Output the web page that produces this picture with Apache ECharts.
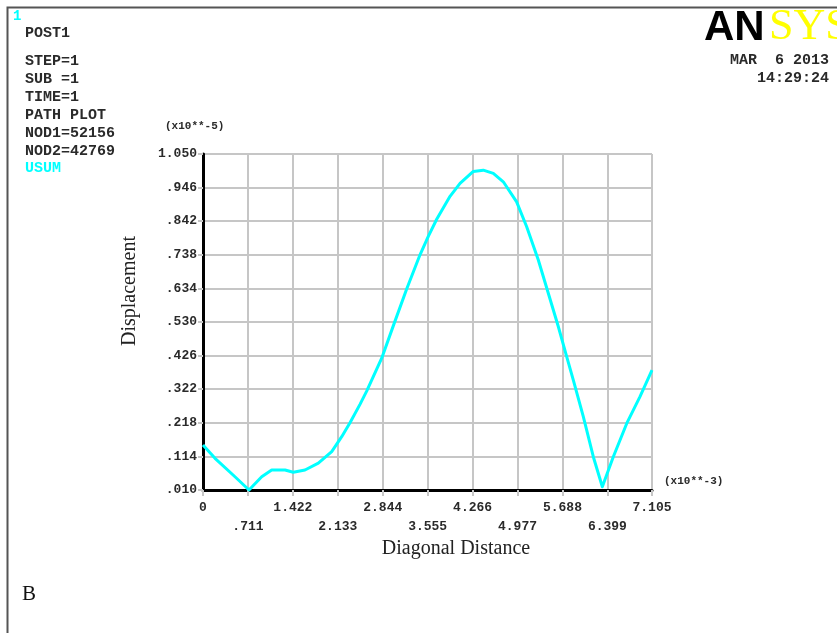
<!DOCTYPE html>
<html>
<head>
<meta charset="utf-8">
<script src="https://cdn.jsdelivr.net/npm/echarts@6/dist/echarts.min.js"></script>
<style>
  html, body { margin: 0; padding: 0; background: #ffffff; }
  #chart { width: 837px; height: 633px; }
</style>
</head>
<body>
<div id="chart"></div>
<script>
// Path plot of USUM along the diagonal (distance x10**-3, displacement x10**-5)
const distance = [0, 0.19, 0.506, 0.728, 0.929, 1.087, 1.298, 1.429, 1.614, 1.825, 2.037, 2.195,
  2.326, 2.484, 2.59, 2.828, 3.011, 3.223, 3.434, 3.565, 3.698, 3.909, 4.067, 4.277, 4.435,
  4.594, 4.752, 4.963, 5.122, 5.306, 5.464, 5.622, 5.755, 5.860, 6.018, 6.176, 6.319, 6.493,
  6.705, 6.915, 7.105];
const usum = [0.149, 0.108, 0.051, 0.010, 0.051, 0.072, 0.072, 0.065, 0.072, 0.093, 0.129, 0.175,
  0.218, 0.275, 0.316, 0.418, 0.518, 0.632, 0.738, 0.795, 0.848, 0.919, 0.959, 0.996, 1.000,
  0.990, 0.964, 0.902, 0.825, 0.722, 0.619, 0.516, 0.423, 0.350, 0.237, 0.113, 0.020, 0.113,
  0.216, 0.299, 0.381];

const xTicks = [0, 0.711, 1.422, 2.133, 2.844, 3.555, 4.266, 4.977, 5.688, 6.399, 7.105];
const xTickLabels = ['0', '.711', '1.422', '2.133', '2.844', '3.555', '4.266', '4.977', '5.688', '6.399', '7.105'];
const yTicks = [0.010, 0.114, 0.218, 0.322, 0.426, 0.530, 0.634, 0.738, 0.842, 0.946, 1.050];
const yTickLabels = ['.010', '.114', '.218', '.322', '.426', '.530', '.634', '.738', '.842', '.946', '1.050'];

const infoLines = ['STEP=1', 'SUB =1', 'TIME=1', 'PATH PLOT', 'NOD1=52156', 'NOD2=42769'];

const mono = '"Liberation Mono", "Courier New", monospace';
const serif = '"Liberation Serif", "Times New Roman", serif';
const txt = '#2a2a2a';
const cyan = '#00ffff';
const gridGray = '#c6c6c6';

const points = distance.map((d, i) => [d, usum[i]]);

function nearestIndex(arr, v) {
  let best = 0;
  for (let i = 1; i < arr.length; i++) {
    if (Math.abs(arr[i] - v) < Math.abs(arr[best] - v)) best = i;
  }
  return best;
}

const infoGraphics = infoLines.map((s, i) => ({
  type: 'text', left: 25, top: 54 + i * 18,
  style: { text: s, font: 'bold 15px ' + mono, fill: txt }
}));

const chart = echarts.init(document.getElementById('chart'), null, { renderer: 'canvas' });
chart.setOption({
  backgroundColor: '#ffffff',
  animation: false,
  grid: { left: 203, top: 154, width: 449, height: 336, containLabel: false },
  xAxis: {
    type: 'value', min: 0, max: 7.105,
    axisLine: { show: true, onZero: false, lineStyle: { color: '#000', width: 3 } },
    axisTick: { show: true, length: 6, customValues: xTicks, lineStyle: { color: gridGray, width: 2 } },
    axisLabel: {
      customValues: xTicks, margin: 8,
      fontFamily: mono, fontWeight: 'bold', fontSize: 13, color: txt, lineHeight: 19,
      formatter: (v) => {
        const i = nearestIndex(xTicks, v);
        return i % 2 === 1 ? '\n' + xTickLabels[i] : xTickLabels[i];
      }
    },
    splitLine: { show: true, lineStyle: { color: gridGray, width: 2 } }
  },
  yAxis: {
    type: 'value', min: 0.010, max: 1.050,
    axisLine: { show: true, onZero: false, lineStyle: { color: '#000', width: 3 } },
    axisTick: { show: true, length: 5, customValues: yTicks, lineStyle: { color: gridGray, width: 2 } },
    axisLabel: {
      customValues: yTicks, margin: 6,
      fontFamily: mono, fontWeight: 'bold', fontSize: 13, color: txt,
      padding: [0, 0, 8, 0],
      formatter: (v) => yTickLabels[nearestIndex(yTicks, v)]
    },
    splitLine: { show: true, lineStyle: { color: gridGray, width: 2 } }
  },
  series: [{
    name: 'USUM', type: 'line', data: points, showSymbol: false, smooth: false,
    lineStyle: { color: cyan, width: 3, join: 'round' }, clip: false
  }],
  graphic: [
    { type: 'rect', left: 5, top: 5, shape: { width: 860, height: 660 },
      style: { fill: 'none', stroke: '#555', lineWidth: 2 }, silent: true },
    { type: 'text', left: 13, top: 9, style: { text: '1', font: 'bold 14px ' + mono, fill: cyan } },
    { type: 'text', left: 25, top: 26, style: { text: 'POST1', font: 'bold 15px ' + mono, fill: txt } },
    ...infoGraphics,
    { type: 'text', left: 25, top: 161, style: { text: 'USUM', font: 'bold 15px ' + mono, fill: cyan } },
    { type: 'text', left: 165, top: 121, style: { text: '(x10**-5)', font: 'bold 11px ' + mono, fill: txt } },
    { type: 'text', left: 664, top: 476, style: { text: '(x10**-3)', font: 'bold 11px ' + mono, fill: txt } },
    { type: 'text', right: 8, top: 53, style: { text: 'MAR  6 2013', font: 'bold 15px ' + mono, fill: txt, align: 'right' } },
    { type: 'text', right: 8, top: 71, style: { text: '14:29:24', font: 'bold 15px ' + mono, fill: txt, align: 'right' } },
    { type: 'text', left: 704, top: 7, style: { text: 'AN', font: 'bold 42px "Liberation Sans", Arial, sans-serif', fill: '#000' } },
    { type: 'text', left: 769, top: 5, style: { text: 'SYS', font: '44px ' + serif, fill: '#ffff00' } },
    { type: 'text', x: 456, y: 549, style: { text: 'Diagonal Distance', font: '20px ' + serif, fill: '#222', align: 'center', verticalAlign: 'middle' } },
    { type: 'text', x: 130, y: 291, rotation: Math.PI / 2, style: { text: 'Displacement', font: '20px ' + serif, fill: '#222', align: 'center', verticalAlign: 'middle' } },
    { type: 'text', left: 22, top: 584, style: { text: 'B', font: '21px ' + serif, fill: '#111' } }
  ]
});
</script>
</body>
</html>
